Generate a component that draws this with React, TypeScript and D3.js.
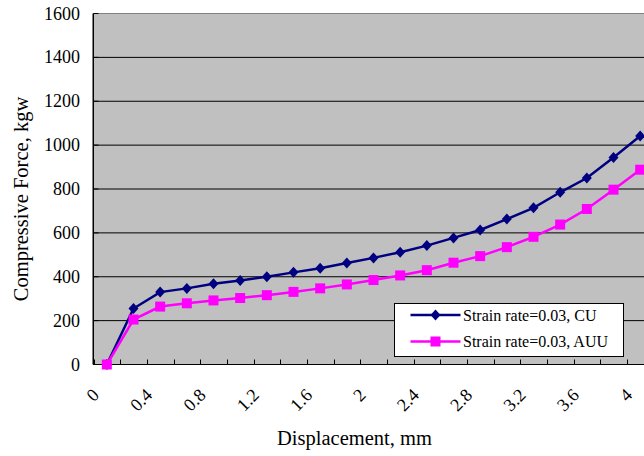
import React from "react";
import * as d3 from "d3";

const categories: string[] = [
  "0", "0.2", "0.4", "0.6", "0.8", "1", "1.2", "1.4", "1.6", "1.8", "2",
  "2.2", "2.4", "2.6", "2.8", "3", "3.2", "3.4", "3.6", "3.8", "4",
];
const shownLabels: string[] = ["0", "0.4", "0.8", "1.2", "1.6", "2", "2.4", "2.8", "3.2", "3.6", "4"];
const cuValues: number[] = [0, 255, 330, 347, 368, 383, 400, 420, 439, 463, 486, 512, 542, 577, 613, 663, 714, 785, 850, 944, 1042];
const auuValues: number[] = [0, 205, 264, 279, 292, 303, 316, 331, 347, 365, 385, 406, 430, 464, 494, 535, 582, 638, 709, 797, 888];
const yTicks: number[] = [0, 200, 400, 600, 800, 1000, 1200, 1400, 1600];
const seriesNames: string[] = ["Strain rate=0.03, CU", "Strain rate=0.03, AUU"];

const W = 644;
const H = 456;
const left = 93.5;
const right = 653.5;
const top = 13.5;
const bottom = 364.5;
const FONT = "'Liberation Serif', 'Times New Roman', serif";

export default function App() {
  const x = d3.scaleBand<string>().domain(categories).range([left, right]).padding(0);
  const bw = x.bandwidth();
  const cx = (c: string) => (x(c) as number) + bw / 2;
  const y = d3.scaleLinear().domain([0, 1600]).range([bottom, top]);

  const line = d3
    .line<number>()
    .x((_, i) => cx(categories[i]))
    .y((d) => y(d));

  const diamond = (px: number, py: number) =>
    `M${px},${py - 5.5}L${px + 5},${py}L${px},${py + 5.5}L${px - 5},${py}Z`;

  const boundaries = d3.range(categories.length + 1).map((i) => left + i * bw);

  const legX = 394.5;
  const legY = 303.5;
  const rows = [315, 341.5];

  return (
    <svg
      width={W}
      height={H}
      style={{ position: "absolute", left: 0, top: 0, background: "#fff" }}
      fontFamily={FONT}
    >
      <rect x={left} y={top} width={right - left} height={bottom - top} fill="#C0C0C0" stroke="#808080" strokeWidth={1} />
      {yTicks.filter((t) => t !== 0 && t !== 1600).map((t) => (
        <line key={"g" + t} x1={left} x2={right} y1={y(t)} y2={y(t)} stroke="#000" strokeWidth={1} />
      ))}
      {/* axes */}
      <line x1={left} x2={left} y1={top} y2={bottom} stroke="#000" strokeWidth={1} />
      <line x1={left - 1} x2={left - 1} y1={top} y2={bottom} stroke="#808080" strokeWidth={1} />
      <line x1={left} x2={right} y1={bottom} y2={bottom} stroke="#000" strokeWidth={1} />
      {yTicks.map((t) => (
        <g key={"yt" + t}>
          <line x1={left} x2={left + 5} y1={y(t)} y2={y(t)} stroke="#000" />
          <text x={80} y={y(t)} textAnchor="end" dominantBaseline="central" fontSize={18} fill="#000">
            {t}
          </text>
        </g>
      ))}
      {boundaries.map((b, i) => (
        <line key={"xt" + i} x1={Math.round(b) + 0.5} x2={Math.round(b) + 0.5} y1={bottom - 5} y2={bottom} stroke="#000" />
      ))}
      {categories.map((c) =>
        shownLabels.includes(c) ? (
          <text
            key={"xl" + c}
            transform={`translate(${cx(c) - 11},${392}) rotate(-45)`}
            textAnchor="end"
            dominantBaseline="central"
            fontSize={18}
            fill="#000"
          >
            {c}
          </text>
        ) : null
      )}
      {/* series */}
      <path d={line(cuValues) || ""} fill="none" stroke="#000080" strokeWidth={2.5} />
      {cuValues.map((v, i) => (
        <path key={"cu" + i} d={diamond(cx(categories[i]), y(v))} fill="#000080" />
      ))}
      <path d={line(auuValues) || ""} fill="none" stroke="#FF00FF" strokeWidth={2.5} />
      {auuValues.map((v, i) => (
        <rect key={"au" + i} x={cx(categories[i]) - 5} y={y(v) - 5} width={10} height={10} fill="#FF00FF" />
      ))}
      {/* legend */}
      <rect x={legX} y={legY} width={229} height={53} fill="#fff" stroke="#000" strokeWidth={1} />
      <line x1={410.5} x2={460.5} y1={rows[0]} y2={rows[0]} stroke="#000080" strokeWidth={2.5} />
      <path d={diamond(435.5, rows[0])} fill="#000080" />
      <text x={463} y={rows[0]} dominantBaseline="central" fontSize={16} fill="#000">
        {seriesNames[0]}
      </text>
      <line x1={410.5} x2={460.5} y1={rows[1]} y2={rows[1]} stroke="#FF00FF" strokeWidth={2.5} />
      <rect x={430.5} y={rows[1] - 5} width={10} height={10} fill="#FF00FF" />
      <text x={463} y={rows[1]} dominantBaseline="central" fontSize={16} fill="#000">
        {seriesNames[1]}
      </text>
      {/* axis titles */}
      <text x={354.5} y={445} textAnchor="middle" fontSize={20.5} fill="#000">
        Displacement, mm
      </text>
      <text
        transform={`translate(28,199) rotate(-90)`}
        textAnchor="middle"
        fontSize={20.5}
        fill="#000"
      >
        Compressive Force, kgw
      </text>
    </svg>
  );
}
